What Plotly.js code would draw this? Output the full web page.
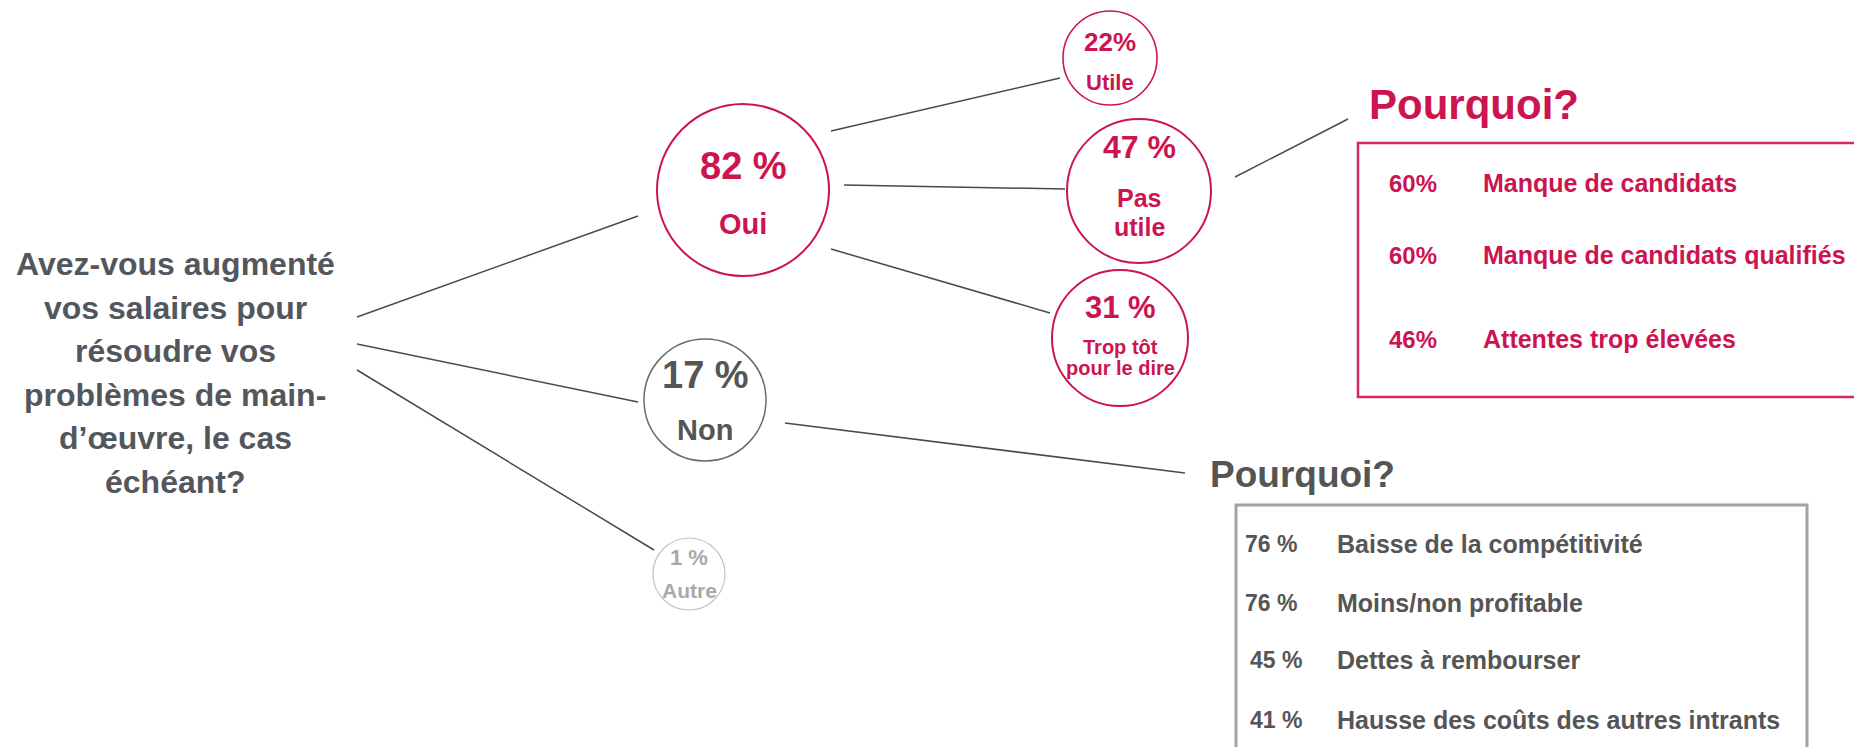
<!DOCTYPE html>
<html><head><meta charset="utf-8">
<script src="https://cdn.plot.ly/plotly-3.0.1.min.js"></script>
<style>html,body{margin:0;padding:0;background:#fff;overflow:hidden}</style>
</head><body><div id="chart" style="width:1854px;height:747px"></div>
<script>
// ---------------- data ----------------
const questionLines = ["Avez-vous augmenté","vos salaires pour","résoudre vos","problèmes de main-","d’œuvre, le cas","échéant?"];
const mainLabels = ["Oui","Non","Autre"];
const mainValues = [82,17,1];
const subLabels = ["Utile","Pas<br>utile","Trop tôt<br>pour le dire"];
const subValues = [22,47,31];
const whyTitle = "Pourquoi?";
const yesReasons = ["Manque de candidats","Manque de candidats qualifiés","Attentes trop élevées"];
const yesReasonValues = [60,60,46];
const noReasons = ["Baisse de la compétitivité","Moins/non profitable","Dettes à rembourser","Hausse des coûts des autres intrants"];
const noReasonValues = [76,76,45,41];

// ---------------- styles / layout geometry ----------------
const W = 1854, H = 747;
const FONT = "Liberation Sans, Arial, sans-serif";
const RED = "#cc1450", DARK = "#53575c", GREY = "#555555", LIGHT = "#a9a9a9", LINE = "#4a4a4a";

const question = {x:175, y0:264, gap:43.5, size:32, color:DARK};

const mainNodes = [
  {cx:743, cy:190, r:86, stroke:RED, sw:2, color:RED, pctY:166, pctSize:38, sep:" ", labY:224, labSize:29, labGap:0},
  {cx:705, cy:400, r:61, stroke:"#6a6a6a", sw:1.5, color:GREY, pctY:375, pctSize:38, sep:" ", labY:430, labSize:29, labGap:0},
  {cx:689, cy:574, r:36, stroke:"#c4c4c4", sw:1.2, color:LIGHT, pctY:557, pctSize:22, sep:" ", labY:590, labSize:21, labGap:0}
];
const subNodes = [
  {cx:1110, cy:58, r:47, stroke:RED, sw:1.6, color:RED, pctY:42, pctSize:26, sep:"", labY:82, labSize:22, labGap:0},
  {cx:1139, cy:191, r:72, stroke:RED, sw:2, color:RED, pctY:147, pctSize:32, sep:" ", labY:198, labSize:25, labGap:29},
  {cx:1120, cy:338, r:68, stroke:RED, sw:2, color:RED, pctY:307, pctSize:31, sep:" ", labY:347, labSize:20, labGap:21}
];
const connectors = [
  {x:[357,638], y:[317,216]},
  {x:[357,638], y:[344,402]},
  {x:[357,654], y:[370,550]},
  {x:[831,1060], y:[131,78]},
  {x:[844,1065], y:[185,189]},
  {x:[831,1050], y:[249,313]},
  {x:[1235,1348], y:[177,119]},
  {x:[785,1185], y:[423,473]}
];
const yesPanel = {titleX:1367, titleY:104, titleSize:42, color:RED,
  box:{x0:1358, x1:1880, y0:143, y1:397, color:"#d42a5c", w:2.5},
  pctX:[1413,1413,1413], labX:1481, rowsY:[183,255,339], pctSize:24, labSize:25, fmtSep:""};
const noPanel = {titleX:1208, titleY:474, titleSize:37, color:GREY,
  box:{x0:1236, x1:1807, y0:505, y1:780, color:"#a3a3a3", w:3},
  pctX:[1271,1271,1276,1276], labX:1335, rowsY:[544,603,660,720], pctSize:23, labSize:25, fmtSep:" "};

// ---------------- build ----------------
function ann(x, y, text, size, color, xanchor) {
  return {x:x, y:y, xref:"x", yref:"y", text:text, showarrow:false,
    xanchor:xanchor || "center", yanchor:"middle",
    font:{family:FONT, size:size, color:color, weight:"bold"}};
}
const annotations = [];
const shapes = [];
const traces = [];

questionLines.forEach((t, i) => {
  annotations.push(ann(question.x, question.y0 + i*question.gap, t, question.size, question.color));
});

connectors.forEach(c => {
  traces.push({type:"scatter", mode:"lines", x:c.x, y:c.y, hoverinfo:"skip",
    line:{color:LINE, width:1.5}, showlegend:false});
});

function drawNodes(nodes, labels, values) {
  nodes.forEach((n, i) => {
    shapes.push({type:"circle", xref:"x", yref:"y", x0:n.cx-n.r, x1:n.cx+n.r, y0:n.cy-n.r, y1:n.cy+n.r,
      line:{color:n.stroke, width:n.sw}, fillcolor:"rgba(0,0,0,0)"});
    annotations.push(ann(n.cx, n.pctY, values[i] + n.sep + "%", n.pctSize, n.color));
    labels[i].split("<br>").forEach((t, j) => {
      annotations.push(ann(n.cx, n.labY + j*n.labGap, t, n.labSize, n.color));
    });
  });
}
drawNodes(mainNodes, mainLabels, mainValues);
drawNodes(subNodes, subLabels, subValues);

function drawPanel(p, labels, values) {
  annotations.push(ann(p.titleX, p.titleY, whyTitle, p.titleSize, p.color, "left"));
  shapes.push({type:"rect", xref:"x", yref:"y", x0:p.box.x0, x1:p.box.x1, y0:p.box.y0, y1:p.box.y1,
    line:{color:p.box.color, width:p.box.w}, fillcolor:"rgba(0,0,0,0)"});
  labels.forEach((t, i) => {
    annotations.push(ann(p.pctX[i], p.rowsY[i], values[i] + p.fmtSep + "%", p.pctSize, p.color));
    annotations.push(ann(p.labX, p.rowsY[i], t, p.labSize, p.color, "left"));
  });
}
drawPanel(yesPanel, yesReasons, yesReasonValues);
drawPanel(noPanel, noReasons, noReasonValues);

const layout = {
  width:W, height:H, margin:{l:0,r:0,t:0,b:0},
  paper_bgcolor:"#ffffff", plot_bgcolor:"#ffffff",
  xaxis:{range:[0,W], visible:false, fixedrange:true},
  yaxis:{range:[H,0], visible:false, fixedrange:true},
  showlegend:false, shapes:shapes, annotations:annotations
};
Plotly.newPlot("chart", traces, layout, {staticPlot:true, displayModeBar:false});
</script></body></html>
